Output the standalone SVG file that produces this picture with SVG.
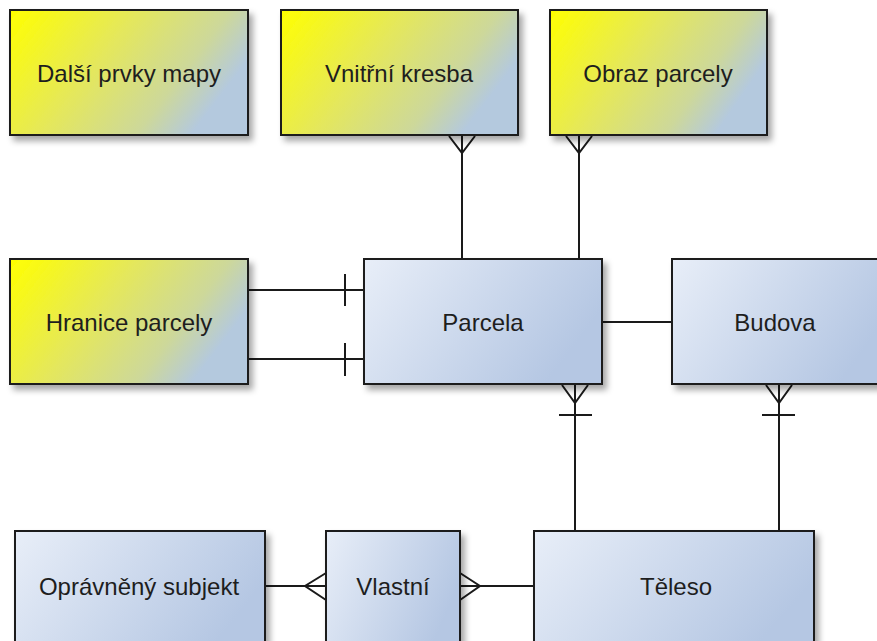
<svg xmlns="http://www.w3.org/2000/svg" width="877" height="641" viewBox="0 0 877 641">
<defs>
<linearGradient id="gy" x1="0" y1="0" x2="1" y2="0.4">
<stop offset="0" stop-color="#ffff00"/>
<stop offset="0.45" stop-color="#e5e85a"/>
<stop offset="0.8" stop-color="#cdd89a"/>
<stop offset="1" stop-color="#b4c9de"/>
</linearGradient>
<linearGradient id="gb" x1="0" y1="0" x2="1" y2="0.4">
<stop offset="0" stop-color="#e8eef8"/>
<stop offset="1" stop-color="#b5c7e3"/>
</linearGradient>
<filter id="sh" x="-10%" y="-10%" width="130%" height="140%">
<feDropShadow dx="4" dy="5" stdDeviation="3" flood-color="#000" flood-opacity="0.35"/>
</filter>
</defs>
<style>
.y{fill:url(#gy);stroke:#1a1a1a;stroke-width:2;filter:url(#sh)}
.b{fill:url(#gb);stroke:#1a1a1a;stroke-width:2;filter:url(#sh)}
text{font-family:"Liberation Sans",Arial,sans-serif;font-size:24px;fill:#1e1e1e;text-anchor:middle}
.c{fill:none;stroke:#1a1a1a;stroke-width:2}
</style>
<rect width="877" height="641" fill="#ffffff"/>
<g id="connectors">
<path class="c" d="M462,135 V259 M449,136 L462,153 L475,136"/>
<path class="c" d="M579,135 V259 M566,136 L579,153 L592,136"/>
<path class="c" d="M248,290 H365 M345,274 V306"/>
<path class="c" d="M248,359 H365 M345,343 V376"/>
<path class="c" d="M602,322 H672"/>
<path class="c" d="M575,384 V531 M562,385 L575,403 L588,385 M559,415 H592"/>
<path class="c" d="M779,384 V531 M766,385 L779,403 L792,385 M762,415 H795"/>
<path class="c" d="M265,586 H326 M326,573 L305,586 L326,600"/>
<path class="c" d="M460,586 H534 M460,573 L480,586 L460,600"/>
</g>
<g id="n-dalsi"><rect class="y" x="10" y="10" width="238" height="125"/><text x="129" y="82">Další prvky mapy</text></g>
<g id="n-vnitrni"><rect class="y" x="281" y="10" width="237" height="125"/><text x="399" y="82">Vnitřní kresba</text></g>
<g id="n-obraz"><rect class="y" x="550" y="10" width="217" height="125"/><text x="658" y="82">Obraz parcely</text></g>
<g id="n-hranice"><rect class="y" x="10" y="259" width="238" height="125"/><text x="129" y="331">Hranice parcely</text></g>
<g id="n-parcela"><rect class="b" x="364" y="259" width="238" height="125"/><text x="483" y="331">Parcela</text></g>
<g id="n-budova"><rect class="b" x="672" y="259" width="220" height="125"/><text x="775" y="331">Budova</text></g>
<g id="n-opravneny"><rect class="b" x="15" y="531" width="250" height="125"/><text x="139" y="595">Oprávněný subjekt</text></g>
<g id="n-vlastni"><rect class="b" x="326" y="531" width="134" height="125"/><text x="393" y="595">Vlastní</text></g>
<g id="n-teleso"><rect class="b" x="534" y="531" width="280" height="125"/><text x="676" y="595">Těleso</text></g>
</svg>
